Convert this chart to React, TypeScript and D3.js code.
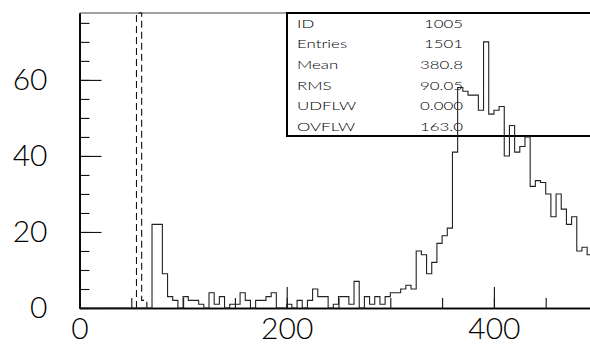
import React, { useRef, useEffect } from "react";
import * as d3 from "d3";

// histogram 1005, bins of 5 starting at 0
const binWidth = 5;
const counts = [
  0, 0, 0, 0, 0, 0, 0, 0, 0, 0, 0, 0, 0, 0, // 0-65
  22, 22, 9, 3, 2, 0, 3, 2, 2, 1, // 70-115
  0, 4, 1, 3, 0, 1, 1, 4, 2, 0, // 120-165
  2, 2, 3, 4, 0, 0, 1, 0, 2, 0, // 170-215
  2, 5, 3, 3, 0, 1, 3, 3, 1, 7, // 220-265
  0, 3, 1, 3, 1, 3, 4, 4, 5, 6, // 270-315
  5, 15, 14, 9, 12, 17, 19, 21, 41, 58, // 320-365
  57, 56, 56, 52, 70, 51, 52, 53, 40, 48, // 370-415
  41, 42.5, 45, 32, 33.5, 33, 30, 24, 30, 26, // 420-465
  22, 24, 15, 16, 14, // 470-490
];

// overlaid dashed histogram (first bin runs off the top)
const dashedStarts = [55, 60];
const dashedCounts = [200, 2];

const xTicksMajor = [0, 200, 400];
const yTicksMajor = [0, 20, 40, 60];

const statNames = ["ID", "Entries", "Mean", "RMS", "UDFLW", "OVFLW"];
const statValues = ["1005", "1501", "380.8", "90.05", "0.000", "163.0"];

const width = 590;
const height = 349;
const left = 79.5;
const right = 597.5;
const top = 13;
const bottom = 308;

const stepPoints = (starts: number[], vals: number[], x: any, y: any) => {
  let pts: [number, number][] = [];
  pts.push([x(starts[0]), y(0)]);
  starts.forEach((s, i) => {
    pts.push([x(s), y(vals[i])]);
    pts.push([x(s + binWidth), y(vals[i])]);
  });
  pts.push([x(starts[starts.length - 1] + binWidth), y(0)]);
  return pts;
};

const App = () => {
  const ref: any = useRef();

  useEffect(() => {
    const g = d3.select(ref.current);
    g.selectAll("*").remove();

    const xScale = d3.scaleLinear().domain([0, 500]).range([left, right]);
    const yScale = d3
      .scaleLinear()
      .domain([0, 77.6])
      .range([bottom, top])
      .clamp(true);

    const labelFont = "Lato, 'DejaVu Sans', sans-serif";

    // frame top
    g.append("line")
      .attr("x1", left)
      .attr("x2", right)
      .attr("y1", top)
      .attr("y2", top)
      .attr("stroke", "#444")
      .attr("stroke-width", 1);

    // stats box
    g.append("rect")
      .attr("x", 287)
      .attr("y", top)
      .attr("width", 320)
      .attr("height", 123)
      .attr("fill", "none")
      .attr("stroke", "#000")
      .attr("stroke-width", 2);

    statNames.forEach((name, i) => {
      const yy = 27.5 + i * 20.7;
      g.append("text")
        .attr("transform", `translate(297,${yy}) scale(1.35,1)`)
        .attr("font-family", labelFont)
        .attr("font-weight", 300)
        .attr("font-size", 12.5)
        .attr("fill", "#000")
        .text(name);
      g.append("text")
        .attr("transform", `translate(463,${yy}) scale(1.35,1)`)
        .attr("text-anchor", "end")
        .attr("font-family", labelFont)
        .attr("font-weight", 300)
        .attr("font-size", 12.5)
        .attr("fill", "#000")
        .text(statValues[i]);
    });

    // y axis: minor then major
    const yMinor = g.append("g").attr("transform", `translate(${left},0)`);
    yMinor.call(
      d3
        .axisLeft(yScale)
        .tickValues(d3.range(0, 78, 5))
        .tickSize(-10)
        .tickSizeOuter(0)
        .tickFormat(() => "")
    );
    const yMajor = g.append("g").attr("transform", `translate(${left},0)`);
    yMajor.call(
      d3
        .axisLeft(yScale)
        .tickValues(yTicksMajor)
        .tickSize(-22)
        .tickSizeOuter(0)
        .tickPadding(32)
        .tickFormat(d3.format("d"))
    );

    // x axis
    const xMinor = g.append("g").attr("transform", `translate(0,${bottom})`);
    xMinor.call(
      d3
        .axisBottom(xScale)
        .tickValues(d3.range(0, 500, 50))
        .tickSize(-10)
        .tickSizeOuter(0)
        .tickFormat(() => "")
    );
    const xMajor = g.append("g").attr("transform", `translate(0,${bottom})`);
    xMajor.call(
      d3
        .axisBottom(xScale)
        .tickValues(xTicksMajor)
        .tickSize(-21)
        .tickSizeOuter(0)
        .tickPadding(10)
        .tickFormat(d3.format("d"))
    );

    g.selectAll(".domain").attr("stroke", "#000").attr("stroke-width", 1.6);
    g.selectAll(".tick line").attr("stroke", "#111").attr("stroke-width", 1.1);
    g.selectAll(".tick text")
      .attr("font-family", labelFont)
      .attr("font-weight", 300)
      .attr("font-size", 30)
      .attr("fill", "#000");

    const line = d3.line();

    // dashed histogram
    g.append("path")
      .attr("d", line(stepPoints(dashedStarts, dashedCounts, xScale, yScale)))
      .attr("fill", "none")
      .attr("stroke", "#111")
      .attr("stroke-width", 1.1)
      .attr("stroke-dasharray", "7,4");

    // main histogram
    const starts = counts.map((_, i) => i * binWidth);
    g.append("path")
      .attr("d", line(stepPoints(starts, counts, xScale, yScale)))
      .attr("fill", "none")
      .attr("stroke", "#222")
      .attr("stroke-width", 1.1);
  }, []);

  return (
    <svg
      width={width}
      height={height}
      style={{ position: "absolute", left: 0, top: 0, background: "#fff" }}
    >
      <g ref={ref}></g>
    </svg>
  );
};

export default App;
